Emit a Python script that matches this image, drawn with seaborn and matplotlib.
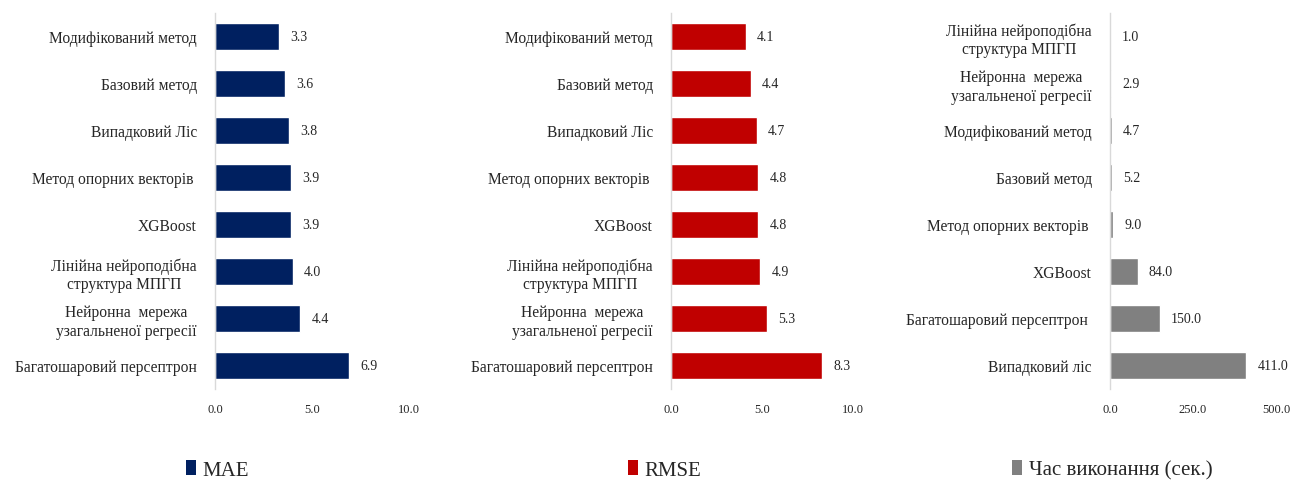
import matplotlib
matplotlib.use("Agg")
import matplotlib.pyplot as plt
from matplotlib.patches import Patch
from matplotlib.ticker import MultipleLocator
import seaborn as sns

# дані (зверху вниз)
mae_methods = ["Модифікований метод", "Базовий метод", "Випадковий Ліс",
               "Метод опорних векторів ", "XGBoost",
               "Лінійна нейроподібна\nструктура МПГП",
               "Нейронна  мережа\nузагальненої регресії",
               "Багатошаровий персептрон"]
mae_values = [3.3, 3.6, 3.8, 3.9, 3.9, 4.0, 4.4, 6.9]

rmse_methods = mae_methods
rmse_values = [4.1, 4.4, 4.7, 4.8, 4.8, 4.9, 5.3, 8.3]

time_methods = ["Лінійна нейроподібна\nструктура МПГП",
                "Нейронна  мережа\nузагальненої регресії",
                "Модифікований метод", "Базовий метод",
                "Метод опорних векторів ", "XGBoost",
                "Багатошаровий персептрон ", "Випадковий ліс"]
time_values = [1.0, 2.9, 4.7, 5.2, 9.0, 84.0, 150.0, 411.0]

legend_names = ["MAE", "RMSE", "Час виконання (сек.)"]
colors = ["#002060", "#C00000", "#808080"]
xlims = [10, 10, 500]
xsteps = [5, 5, 250]

sns.set_style("white")
plt.rcParams["font.family"] = ["Liberation Serif", "DejaVu Serif"]

W, H = 1314, 481
fig = plt.figure(figsize=(W / 100, H / 100), dpi=100)

# положення осей у пікселях: (ліво, ширина)
boxes = [(215, 194), (671, 182), (1110, 166)]
top, bottom = 14, 390
panels = [(mae_methods, mae_values), (rmse_methods, rmse_values), (time_methods, time_values)]
legend_pos = [186, 628, 1012]

for i, (cats, vals) in enumerate(panels):
    left, width = boxes[i]
    ax = fig.add_axes([left / W, 1 - bottom / H, width / W, (bottom - top) / H])
    sns.barplot(x=vals, y=cats, color=colors[i], orient="h", ax=ax,
                width=0.58, saturation=1)
    ax.set_xlim(0, xlims[i])
    ax.set_ylim(7.5, -0.5)
    ax.set_xlabel("")
    ax.set_ylabel("")
    ax.xaxis.set_major_locator(MultipleLocator(xsteps[i]))
    ax.xaxis.set_major_formatter(matplotlib.ticker.FormatStrFormatter("%.1f"))
    ax.tick_params(axis="x", length=0, pad=10, labelsize=9)
    ax.tick_params(axis="y", which="major", length=0, pad=13, labelsize=11.2)
    ax.yaxis.set_minor_locator(MultipleLocator(1, offset=0.5))
    ax.tick_params(axis="y", which="minor", length=3, color="#d9d9d9", width=1)
    for lbl in ax.get_yticklabels():
        lbl.set_multialignment("center")
    for s in ["top", "right", "bottom"]:
        ax.spines[s].set_visible(False)
    ax.spines["left"].set_color("#d9d9d9")
    ax.spines["left"].set_linewidth(1)
    ax.grid(False)
    ax.bar_label(ax.containers[0], fmt="%.1f", padding=8, fontsize=10)

    fig.legend(handles=[Patch(facecolor=colors[i], edgecolor="none")],
               labels=[legend_names[i]], loc="center left",
               bbox_to_anchor=(legend_pos[i] / W, 1 - 471 / H),
               frameon=False, fontsize=15, handlelength=0.5, handleheight=0.75,
               handletextpad=0.3, borderpad=0, borderaxespad=0)

fig.savefig("out.png", dpi=100, facecolor="white")
